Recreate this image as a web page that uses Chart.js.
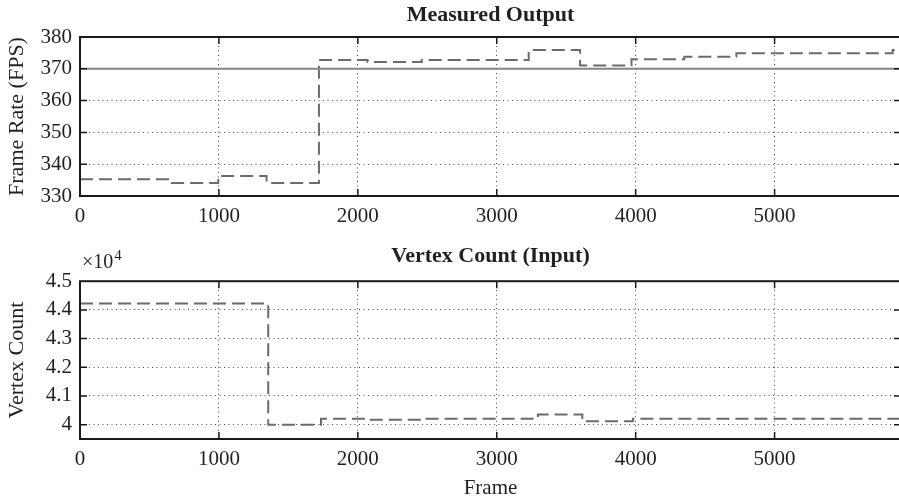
<!DOCTYPE html>
<html>
<head>
<title>Measured output and vertex count</title>
<script src="https://cdn.jsdelivr.net/npm/chart.js@4.4.0/dist/chart.umd.min.js"></script>
<style>
  body { margin: 0; overflow: hidden; background: #fff; }
  .panel { position: absolute; left: 0; width: 901px; }
  #top { top: 0; height: 240px; }
  #bottom { top: 240px; height: 261px; }
</style>
</head>
<body>
<div class="panel" id="top"><canvas id="fpsChart"></canvas></div>
<div class="panel" id="bottom"><canvas id="vertChart"></canvas></div>
<script>
// x axis (frames)
var frameMax = 5910;
var frameTicks = [0, 1000, 2000, 3000, 4000, 5000];

// measured output: frame where each step starts, and its fps
var fpsFrames = [0, 660, 995, 1343, 1720, 2070, 2460, 3230, 3600, 3970, 4350, 4725, 5850, 5910];
var fpsValues = [335.3, 334.1, 336.3, 334.1, 372.8, 372.1, 372.8, 375.9, 371.0, 373.0, 373.8, 374.9, 375.9, 375.9];
var targetFps = 370;
var fpsTicks = [330, 340, 350, 360, 370, 380];

// vertex count input
var vertFrames = [0, 1355, 1735, 2070, 2465, 3296, 3616, 3980, 5910];
var vertValues = [44220, 40000, 40210, 40170, 40210, 40350, 40120, 40210, 40210];
var vertTicks = [40000, 41000, 42000, 43000, 44000, 45000];

var serif = "'Liberation Serif', 'Times New Roman', serif";
Chart.defaults.font.family = serif;
Chart.defaults.color = '#231f20';

function toPoints(xs, ys) {
  var pts = [];
  for (var i = 0; i < xs.length; i++) pts.push({x: xs[i], y: ys[i]});
  return pts;
}

// box round the plot + inward tick marks like matlab
var boxPlugin = {
  id: 'boxPlugin',
  afterDatasetsDraw: function(chart) {
    var a = chart.chartArea, ctx = chart.ctx;
    var xs = chart.scales.x, ys = chart.scales.y;
    ctx.save();
    ctx.strokeStyle = '#1a1a1a';
    ctx.lineWidth = 1.5;
    ctx.beginPath();
    xs.ticks.forEach(function(t) {
      var px = xs.getPixelForValue(t.value);
      if (px <= a.left + 1) return;
      ctx.moveTo(px, a.bottom); ctx.lineTo(px, a.bottom - 7);
      ctx.moveTo(px, a.top); ctx.lineTo(px, a.top + 7);
    });
    ys.ticks.forEach(function(t) {
      var py = ys.getPixelForValue(t.value);
      if (py <= a.top + 1 || py >= a.bottom - 1) return;
      ctx.moveTo(a.left, py); ctx.lineTo(a.left + 7, py);
      ctx.moveTo(a.right, py); ctx.lineTo(a.right - 7, py);
    });
    ctx.stroke();
    ctx.lineWidth = 2;
    ctx.strokeRect(a.left, a.top, a.right - a.left, a.bottom - a.top);
    ctx.restore();
  }
};

// the x10^4 multiplier over the bottom y axis
var exponentPlugin = {
  id: 'exponentPlugin',
  afterDraw: function(chart) {
    var a = chart.chartArea, ctx = chart.ctx;
    ctx.save();
    ctx.fillStyle = '#231f20';
    ctx.textBaseline = 'alphabetic';
    ctx.font = '20px ' + serif;
    ctx.fillText('\u00d710', a.left + 2, a.top - 13);
    var w = ctx.measureText('\u00d710').width;
    ctx.font = '15px ' + serif;
    ctx.fillText('4', a.left + 3 + w, a.top - 21);
    ctx.restore();
  }
};

function xScale(showTitle, height) {
  return {
    type: 'linear',
    min: 0,
    max: frameMax,
    afterBuildTicks: function(s) { s.ticks = frameTicks.map(function(v) { return {value: v}; }); },
    afterFit: function(s) { s.height = height; },
    grid: { color: '#4a4a4a', lineWidth: 1, drawTicks: false },
    border: { display: false, dash: [1, 3.5] },
    ticks: { padding: 8, font: { size: 21 }, maxRotation: 0, callback: function(v) { return String(v); } },
    title: { display: showTitle, text: 'Frame', font: { size: 21 }, padding: { top: 1, bottom: 0 } }
  };
}

function yScale(min, max, ticks, label, fmt) {
  return {
    type: 'linear',
    min: min,
    max: max,
    afterBuildTicks: function(s) { s.ticks = ticks.map(function(v) { return {value: v}; }); },
    afterFit: function(s) { s.width = 80; },
    grid: { color: '#4a4a4a', lineWidth: 1, drawTicks: false },
    border: { display: false, dash: [1, 3.5] },
    ticks: { padding: 8, font: { size: 21 }, callback: fmt },
    title: { display: true, text: label, font: { size: 22 }, padding: { top: 4, bottom: 0 } }
  };
}

new Chart(document.getElementById('fpsChart'), {
  type: 'line',
  data: {
    datasets: [
      {
        label: 'Target',
        data: [{x: 0, y: targetFps}, {x: frameMax, y: targetFps}],
        borderColor: '#858585',
        borderWidth: 2,
        pointRadius: 0
      },
      {
        label: 'Frame rate',
        data: toPoints(fpsFrames, fpsValues),
        stepped: true,
        borderColor: '#6b6b6b',
        borderWidth: 2,
        borderDash: [13, 6],
        pointRadius: 0
      }
    ]
  },
  options: {
    responsive: true,
    maintainAspectRatio: false,
    animation: false,
    layout: { padding: 0 },
    plugins: {
      legend: { display: false },
      tooltip: { enabled: false },
      title: {
        display: true, text: 'Measured Output', fullSize: false,
        font: { size: 22, weight: 'bold' }, color: '#231f20',
        padding: { top: 2, bottom: 8.6 }
      }
    },
    scales: {
      x: xScale(false, 44),
      y: yScale(330, 380, fpsTicks, 'Frame Rate (FPS)', function(v) { return String(v); })
    }
  },
  plugins: [boxPlugin]
});

new Chart(document.getElementById('vertChart'), {
  type: 'line',
  data: {
    datasets: [
      {
        label: 'Vertex count',
        data: toPoints(vertFrames, vertValues),
        stepped: true,
        borderColor: '#6b6b6b',
        borderWidth: 2,
        borderDash: [13, 6],
        pointRadius: 0
      }
    ]
  },
  options: {
    responsive: true,
    maintainAspectRatio: false,
    animation: false,
    layout: { padding: 0 },
    plugins: {
      legend: { display: false },
      tooltip: { enabled: false },
      title: {
        display: true, text: 'Vertex Count (Input)', fullSize: false,
        font: { size: 22, weight: 'bold' }, color: '#231f20',
        padding: { top: 3, bottom: 11.8 }
      }
    },
    scales: {
      x: xScale(true, 62),
      y: yScale(39500, 45000, vertTicks, 'Vertex Count', function(v) { return String(Math.round(v / 1000) / 10); })
    }
  },
  plugins: [boxPlugin, exponentPlugin]
});
</script>
</body>
</html>
